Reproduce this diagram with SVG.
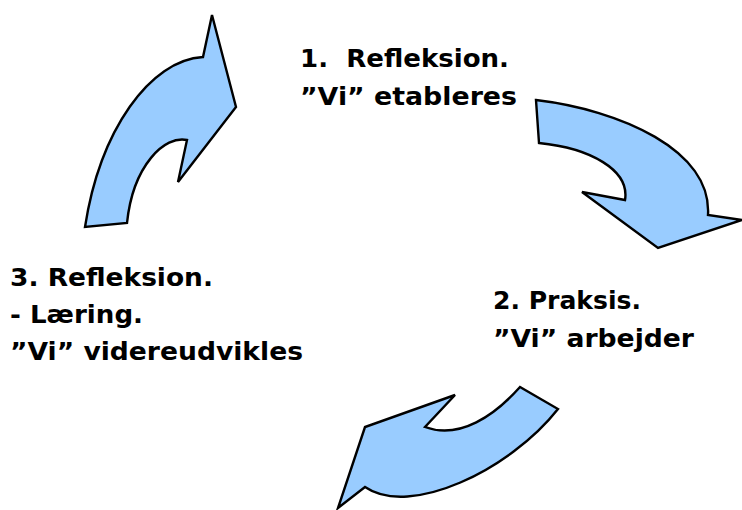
<svg xmlns="http://www.w3.org/2000/svg" width="742" height="510" viewBox="0 0 742 510">
<style>
.arr{fill:#99CCFF;stroke:#000;stroke-width:2.4;stroke-linejoin:miter}
.t{font-family:"DejaVu Sans","Liberation Sans",sans-serif;font-weight:bold;font-size:25.5px;fill:#000}
</style>
<rect width="742" height="510" fill="#fff"/>
<g id="connectors">
<path id="arrow1" class="arr" d="M85,227 C100,130 150,60 203,57 L212,15 L236,107 L178,182 L187,140 C165,135 133,165 127,223 Z"/>
<path id="arrow2" class="arr" d="M536,100 C620,110 712,150 708,215 L742,220 L658,248 L582,192 L625,200 C630,170 590,148 539,143 Z"/>
<path id="arrow3" class="arr" d="M558,409 C510,470 410,518 365,487 L338,508 L365,427 L455,395 L425,427 C460,440 495,415 520,387 Z"/>
</g>
<g id="node1">
<text class="t" x="300" y="67" textLength="209" lengthAdjust="spacingAndGlyphs" xml:space="preserve">1.  Refleksion.</text>
<text class="t" x="300" y="105" textLength="217" lengthAdjust="spacingAndGlyphs">”Vi” etableres</text>
</g>
<g id="node2">
<text class="t" x="493" y="309" textLength="148" lengthAdjust="spacingAndGlyphs">2. Praksis.</text>
<text class="t" x="493" y="347" textLength="201" lengthAdjust="spacingAndGlyphs">”Vi” arbejder</text>
</g>
<g id="node3">
<text class="t" x="10" y="286" textLength="203" lengthAdjust="spacingAndGlyphs">3. Refleksion.</text>
<text class="t" x="10" y="323" textLength="133" lengthAdjust="spacingAndGlyphs">- Læring.</text>
<text class="t" x="10" y="360" textLength="293" lengthAdjust="spacingAndGlyphs">”Vi” videreudvikles</text>
</g>
</svg>
